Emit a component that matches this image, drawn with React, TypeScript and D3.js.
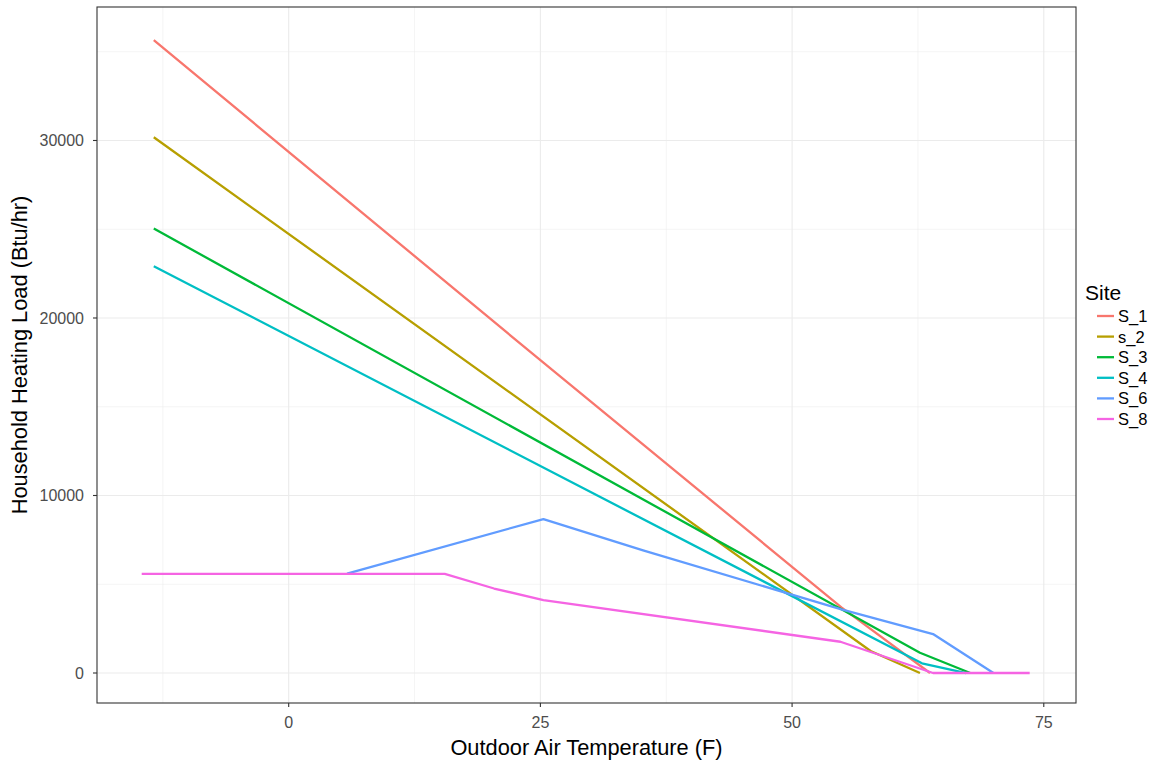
import React from "react";
import * as d3 from "d3";

// Heating load (Btu/hr) versus outdoor air temperature (F), one polyline per site
const siteNames = ["S_1", "s_2", "S_3", "S_4", "S_6", "S_8"];
const siteColors = ["#F8766D", "#B79F00", "#00BA38", "#00BFC4", "#619CFF", "#F564E3"];

const s1Temp = [-13.4, 25.3, 54.9, 63.7];
const s1Load = [35650, 17480, 3700, 0];

const s2Temp = [-13.4, 57.8, 62.7];
const s2Load = [30180, 1240, 0];

const s3Temp = [-13.4, 62.7, 67.7];
const s3Load = [25040, 1143, 0];

const s4Temp = [-13.4, 62.9, 67.3];
const s4Load = [22920, 546, 0];

const s6Temp = [5.8, 25.3, 35.2, 54.9, 64.0, 70.0];
const s6Load = [5600, 8673, 6905, 3580, 2196, 0];

const s8Temp = [-14.6, 15.5, 20.4, 25.3, 54.8, 64.0, 73.6];
const s8Load = [5580, 5580, 4760, 4110, 1760, 0, 0];

const seriesTemps = [s1Temp, s2Temp, s3Temp, s4Temp, s6Temp, s8Temp];
const seriesLoads = [s1Load, s2Load, s3Load, s4Load, s6Load, s8Load];

const xMajor = [0, 25, 50, 75];
const xMinor = [-12.5, 12.5, 37.5, 62.5];
const yMajor = [0, 10000, 20000, 30000];
const yMinor = [5000, 15000, 25000, 35000];

const W = 1154;
const H = 763;
const panel = { left: 97, right: 1076, top: 7, bottom: 703 };
const FONT = "'Liberation Sans', Arial, sans-serif";

export default function App() {
  const x = d3.scaleLinear().domain([-19.04, 78.2]).range([panel.left, panel.right]);
  const y = d3.scaleLinear().domain([-1690, 37520]).range([panel.bottom, panel.top]);

  const line = d3
    .line<[number, number]>()
    .x((d) => x(d[0]))
    .y((d) => y(d[1]));

  const series = siteNames.map((name, i) => ({
    name,
    color: siteColors[i],
    points: seriesTemps[i].map((t, j) => [t, seriesLoads[i][j]] as [number, number]),
  }));

  const legendX = 1085;
  const legendY0 = 316;
  const legendStep = 20.6;

  return (
    <svg
      width={W}
      height={H}
      style={{ position: "absolute", left: 0, top: 0, background: "#fff" }}
      fontFamily={FONT}
    >
      <rect x={0} y={0} width={W} height={H} fill="#fff" />
      {/* grid */}
      <g>
        {xMinor.map((v) => (
          <line key={"xm" + v} x1={x(v)} x2={x(v)} y1={panel.top} y2={panel.bottom} stroke="#EBEBEB" strokeWidth={0.55} />
        ))}
        {yMinor.map((v) => (
          <line key={"ym" + v} x1={panel.left} x2={panel.right} y1={y(v)} y2={y(v)} stroke="#EBEBEB" strokeWidth={0.55} />
        ))}
        {xMajor.map((v) => (
          <line key={"xM" + v} x1={x(v)} x2={x(v)} y1={panel.top} y2={panel.bottom} stroke="#EBEBEB" strokeWidth={1.1} />
        ))}
        {yMajor.map((v) => (
          <line key={"yM" + v} x1={panel.left} x2={panel.right} y1={y(v)} y2={y(v)} stroke="#EBEBEB" strokeWidth={1.1} />
        ))}
      </g>
      {/* lines */}
      <g fill="none" strokeLinejoin="round" strokeLinecap="butt">
        {series.map((s) => (
          <path key={s.name} d={line(s.points) || ""} stroke={s.color} strokeWidth={2.3} />
        ))}
      </g>
      {/* panel border */}
      <rect
        x={panel.left}
        y={panel.top}
        width={panel.right - panel.left}
        height={panel.bottom - panel.top}
        fill="none"
        stroke="#333333"
        strokeWidth={1.1}
      />
      {/* x axis */}
      <g>
        {xMajor.map((v) => (
          <g key={"xt" + v}>
            <line x1={x(v)} x2={x(v)} y1={panel.bottom} y2={panel.bottom + 4} stroke="#333333" strokeWidth={1.1} />
            <text x={x(v)} y={728} textAnchor="middle" fontSize={16} fill="#4D4D4D">
              {v}
            </text>
          </g>
        ))}
        <text x={(panel.left + panel.right) / 2} y={755} textAnchor="middle" fontSize={21.8} fill="#000">
          Outdoor Air Temperature (F)
        </text>
      </g>
      {/* y axis */}
      <g>
        {yMajor.map((v) => (
          <g key={"yt" + v}>
            <line x1={panel.left - 4} x2={panel.left} y1={y(v)} y2={y(v)} stroke="#333333" strokeWidth={1.1} />
            <text x={84} y={y(v)} dy="0.36em" textAnchor="end" fontSize={16} fill="#4D4D4D">
              {v}
            </text>
          </g>
        ))}
        <text
          transform={`translate(27, ${(panel.top + panel.bottom) / 2}) rotate(-90)`}
          textAnchor="middle"
          fontSize={21.8}
          fill="#000"
        >
          Household Heating Load (Btu/hr)
        </text>
      </g>
      {/* legend */}
      <g>
        <text x={legendX} y={300} fontSize={21} fill="#000">
          Site
        </text>
        {series.map((s, i) => (
          <g key={"lg" + s.name} transform={`translate(0, ${legendY0 + i * legendStep})`}>
            <line x1={1097} x2={1114} y1={0} y2={0} stroke={s.color} strokeWidth={2.3} />
            <text x={1118} y={0} dy="0.36em" fontSize={16.5} fill="#000">
              {s.name}
            </text>
          </g>
        ))}
      </g>
    </svg>
  );
}
